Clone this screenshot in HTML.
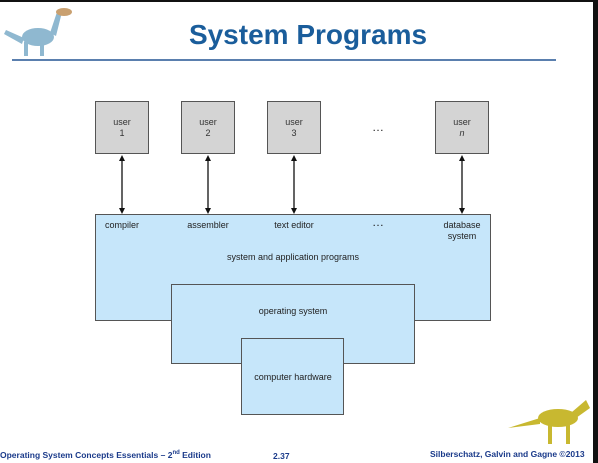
<!DOCTYPE html>
<html><head><style>
body{margin:0;width:598px;height:463px;background:#fff;position:relative;overflow:hidden;font-family:"Liberation Sans",sans-serif}
.a{position:absolute}
.u{position:absolute;width:54px;height:53px;background:#d4d4d4;border:1px solid #555;box-sizing:border-box;text-align:center;font-size:9px;color:#333;padding-top:15px;line-height:11px}
.l{position:absolute;font-size:9px;color:#222;text-align:center;transform:translateX(-50%);white-space:nowrap;line-height:11px}
.b{position:absolute;background:#c6e6fa;border:1px solid #555;box-sizing:border-box}
</style></head><body>
<div class="a" style="left:0;top:0;width:598px;height:2px;background:#111"></div>
<div class="a" style="left:593px;top:0;width:5px;height:463px;background:#111"></div>
<div class="a" style="left:0;top:19px;width:616px;text-align:center;font-size:28px;font-weight:bold;color:#1a5d9b">System Programs</div>
<div class="a" style="left:12px;top:59px;width:544px;height:2px;background:#5a7fae"></div>
<svg class="a" style="left:0;top:0" width="598" height="463">
<g fill="#8fb8d0"><ellipse cx="38" cy="37" rx="16" ry="9"/><path d="M50 33 L57 12 L62 12 L56 36Z"/><ellipse cx="64" cy="12" rx="8" ry="4" fill="#c9a070"/><path d="M24 38 L6 30 L4 34 L22 44Z"/><rect x="24" y="42" width="4" height="14"/><rect x="40" y="42" width="4" height="14"/></g>
<g fill="#c8b830"><ellipse cx="558" cy="418" rx="20" ry="9"/><path d="M540 418 L508 428 L540 424Z"/><path d="M572 412 L586 400 L590 408 L576 418Z"/><rect x="548" y="424" width="4" height="20"/><rect x="566" y="424" width="4" height="20"/></g>
<g stroke="#111" stroke-width="1.3" fill="#111">
<line x1="122" y1="160" x2="122" y2="209"/><line x1="208" y1="160" x2="208" y2="209"/><line x1="294" y1="160" x2="294" y2="209"/><line x1="462" y1="160" x2="462" y2="209"/>
<path d="M122 155l-3 6h6z M208 155l-3 6h6z M294 155l-3 6h6z M462 155l-3 6h6z M122 214l-3 -6h6z M208 214l-3 -6h6z M294 214l-3 -6h6z M462 214l-3 -6h6z" stroke="none"/>
</g>
</svg>
<div class="u" style="left:95px;top:101px">user<br>1</div>
<div class="u" style="left:181px;top:101px">user<br>2</div>
<div class="u" style="left:267px;top:101px">user<br>3</div>
<div class="u" style="left:435px;top:101px">user<br><i>n</i></div>
<div class="l" style="left:378px;top:122px;font-size:12px">…</div>
<div class="b" style="left:95px;top:214px;width:396px;height:107px"></div>
<div class="b" style="left:171px;top:284px;width:244px;height:80px"></div>
<div class="b" style="left:241px;top:338px;width:103px;height:77px;border-top:1px solid #555"></div>
<div class="a" style="left:172px;top:319px;width:242px;height:3px;background:#c6e6fa"></div>
<div class="a" style="left:242px;top:362px;width:101px;height:3px;background:#c6e6fa"></div>
<div class="l" style="left:122px;top:220px">compiler</div>
<div class="l" style="left:208px;top:220px">assembler</div>
<div class="l" style="left:294px;top:220px">text editor</div>
<div class="l" style="left:378px;top:217px;font-size:12px">…</div>
<div class="l" style="left:462px;top:220px">database<br>system</div>
<div class="l" style="left:293px;top:252px">system and application programs</div>
<div class="l" style="left:293px;top:306px">operating system</div>
<div class="l" style="left:293px;top:372px">computer hardware</div>
<div class="a" style="left:0;top:450px;font-size:8.5px;font-weight:bold;color:#1a3a8a">Operating System Concepts Essentials – 2<sup style="font-size:6px">nd</sup> Edition</div>
<div class="a" style="left:273px;top:451px;font-size:8.5px;font-weight:bold;color:#1a3a8a">2.37</div>
<div class="a" style="left:430px;top:449px;font-size:8.5px;font-weight:bold;color:#1a3a8a">Silberschatz, Galvin and Gagne ©2013</div>
</body></html>
